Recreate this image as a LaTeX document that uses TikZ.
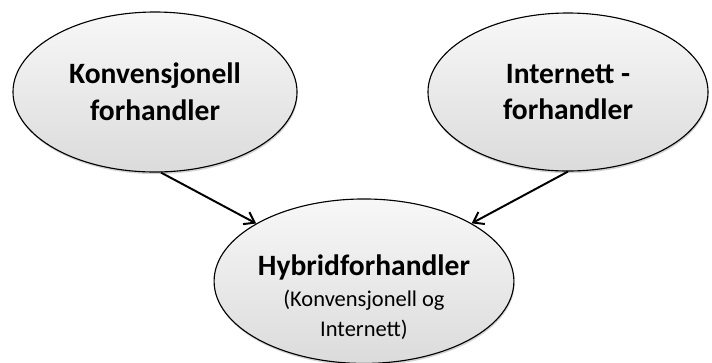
\documentclass[tikz,border=0pt]{standalone}
\usepackage{fontspec}
\setmainfont{Carlito}
\usetikzlibrary{shapes.geometric,shadows,arrows.meta}

\begin{document}
\begin{tikzpicture}[
  dealer/.style={ellipse, draw=black, line width=0.8pt, inner sep=0pt,
    top color=gray!6, bottom color=gray!28,
    drop shadow={opacity=0.35, shadow xshift=0.5pt, shadow yshift=-1.5pt},
    align=center, font=\fontsize{21}{26}\selectfont\bfseries},
  link/.style={-{Straight Barb[length=2.4mm,width=3.4mm]}, line width=1.4pt}]
\useasboundingbox (0, 0) rectangle (17.8, -9.05);
\node[dealer, minimum width=7.1cm, minimum height=4.0cm] (conv) at (3.875, -2.3) {Konvensjonell\\forhandler};
\node[dealer, minimum width=7.0cm, minimum height=3.95cm] (inet) at (14.2, -2.3) {Internett -\\forhandler};
\node[dealer, minimum width=7.45cm, minimum height=3.95cm] (hybrid) at (9.1, -7.03)
  {\rule{0pt}{37pt}Hybridforhandler\\[-3.5pt]{\fontsize{16}{20}\selectfont\mdseries (Konvensjonell og}\\[-5pt]{\fontsize{16}{20}\selectfont\mdseries Internett)}};
\draw [link] ([xshift=0.15cm]conv.south) -- (hybrid);
\draw [link] (inet.south) -- (hybrid);
\end{tikzpicture}
\end{document}
